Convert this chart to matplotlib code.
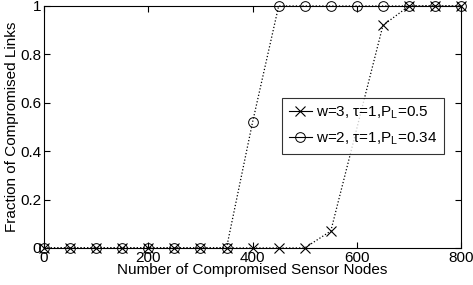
import matplotlib
matplotlib.use("Agg")
import matplotlib.pyplot as plt
from matplotlib.lines import Line2D

plt.rcParams['font.family'] = ['Liberation Sans', 'DejaVu Sans']
plt.rcParams['mathtext.fontset'] = 'custom'
plt.rcParams['mathtext.rm'] = 'Liberation Sans'
plt.rcParams['mathtext.it'] = 'Liberation Sans'

# w=3 series (x markers)
nodes_w3 = [0, 50, 100, 150, 200, 250, 300, 350, 400, 450, 500, 550, 650, 700, 750, 800]
frac_w3 = [0, 0, 0, 0, 0, 0, 0, 0, 0, 0, 0, 0.07, 0.92, 1, 1, 1]

# w=2 series (circle markers)
nodes_w2 = [0, 50, 100, 150, 200, 250, 300, 350, 400, 450, 500, 550, 600, 650, 700, 750, 800]
frac_w2 = [0, 0, 0, 0, 0, 0, 0, 0, 0.52, 1, 1, 1, 1, 1, 1, 1, 1]

label_w3 = "w=3, \u03c4=1,P$_\\mathrm{L}$=0.5"
label_w2 = "w=2, \u03c4=1,P$_\\mathrm{L}$=0.34"

fig = plt.figure(figsize=(4.73, 2.85), dpi=100)
ax = fig.add_axes([0.093, 0.130, 0.882, 0.849])

ax.plot(nodes_w3, frac_w3, color='black', linestyle=':', linewidth=0.9,
        marker='x', markersize=7, markeredgewidth=0.8, clip_on=False)
ax.plot(nodes_w2, frac_w2, color='black', linestyle=':', linewidth=0.9,
        marker='o', markersize=7, markerfacecolor='none', markeredgewidth=0.7, clip_on=False)

ax.set_xlim(0, 800)
ax.set_ylim(0, 1)
ax.set_xticks([0, 200, 400, 600, 800])
ax.set_yticks([0, 0.2, 0.4, 0.6, 0.8, 1])
ax.set_yticklabels(['0', '0.2', '0.4', '0.6', '0.8', '1'])
ax.tick_params(direction='in', top=True, right=True, labelsize=11, pad=2, length=4)
ax.set_xlabel("Number of Compromised Sensor Nodes", fontsize=11, labelpad=-1)
ax.set_ylabel("Fraction of Compromised Links", fontsize=11, labelpad=1)

handles = [
    Line2D([], [], color='black', linewidth=0.8, marker='x', markersize=7, markeredgewidth=0.8),
    Line2D([], [], color='black', linewidth=0.8, marker='o', markersize=7,
           markerfacecolor='none', markeredgewidth=0.7),
]
leg = ax.legend(handles, [label_w3, label_w2], loc='upper left', bbox_to_anchor=(0.57, 0.62),
                fontsize=11, frameon=True, fancybox=False, edgecolor='black',
                handlelength=1.5, handletextpad=0.3, borderpad=0.45, labelspacing=0.6,
                borderaxespad=0)
leg.get_frame().set_linewidth(0.8)

fig.savefig("out.png", dpi=100)
